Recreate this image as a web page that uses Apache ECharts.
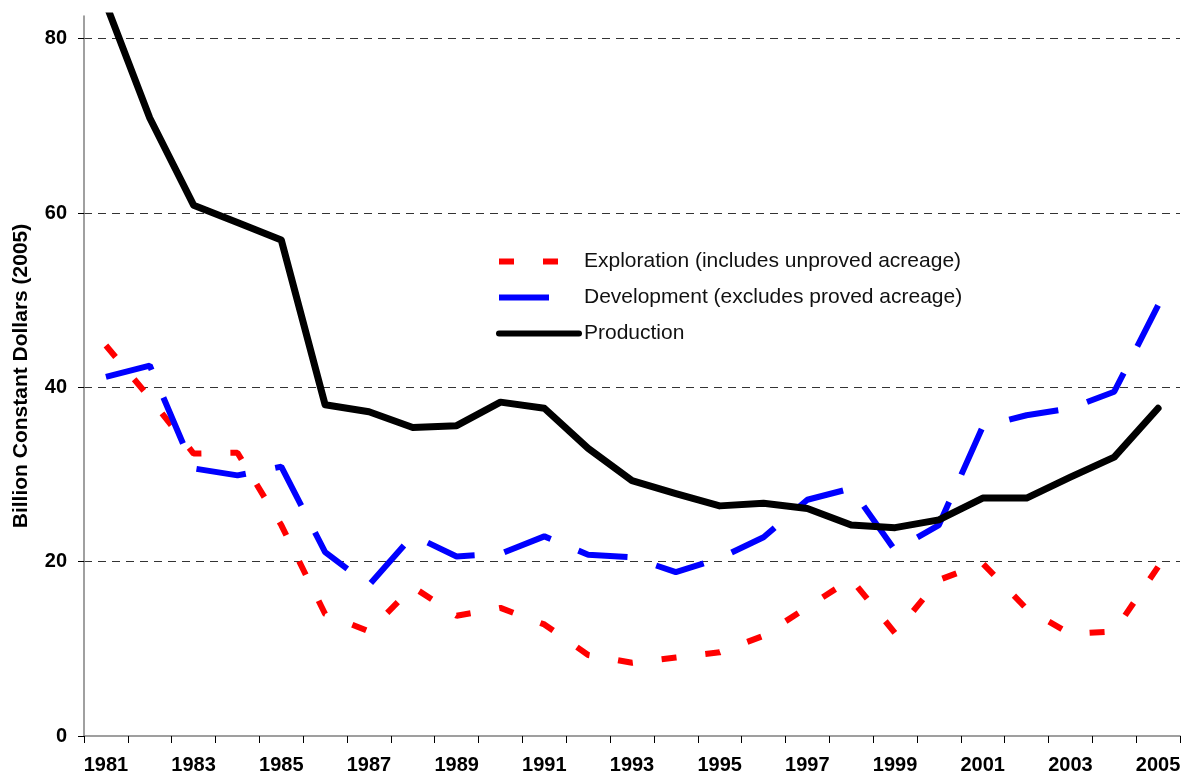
<!DOCTYPE html>
<html>
<head>
<meta charset="utf-8">
<script src="https://cdn.jsdelivr.net/npm/echarts@6/dist/echarts.min.js"></script>
<style>
  html, body { margin: 0; padding: 0; background: #fff; }
  #chart { width: 1184px; height: 778px; }
</style>
</head>
<body>
<div id="chart"></div>
<script>
  // years on the x axis
  var years = ['1981', '1982', '1983', '1984', '1985', '1986', '1987', '1988', '1989', '1990',
    '1991', '1992', '1993', '1994', '1995', '1996', '1997', '1998', '1999', '2000',
    '2001', '2002', '2003', '2004', '2005']

  // billion constant dollars (2005)
  var exploration = [44.8, 38.8, 32.4, 32.5, 24.2, 14.0, 12.0, 17.1, 13.8, 14.7,
    12.8, 9.3, 8.4, 9.0, 9.6, 11.5, 14.8, 18.0, 11.8, 17.9,
    19.8, 14.6, 11.7, 12.0, 19.4]
  var development = [41.2, 42.5, 30.7, 29.9, 30.9, 21.1, 17.3, 23.0, 20.6, 20.9,
    22.9, 20.8, 20.5, 18.8, 20.4, 22.8, 27.1, 28.4, 21.3, 24.2,
    35.5, 36.8, 37.6, 39.5, 49.4]
  var production = [84.0, 70.9, 60.9, 58.9, 56.9, 38.0, 37.2, 35.4, 35.6, 38.3,
    37.6, 33.0, 29.3, 27.8, 26.4, 26.7, 26.1, 24.2, 23.9, 24.8,
    27.3, 27.3, 29.7, 32.0, 37.6]

  var font = 'Liberation Sans, Arial, sans-serif'

  var chart = echarts.init(document.getElementById('chart'), null, { renderer: 'canvas' })

  var option = {
    backgroundColor: '#fff',
    animation: false,
    grid: {
      left: 84,
      right: 4,
      top: 16,
      bottom: 42,
      containLabel: false,
      outerBoundsMode: 'none'
    },
    legend: {
      orient: 'vertical',
      left: 496,
      top: 251,
      padding: 0,
      itemWidth: 80,
      itemHeight: 14,
      itemGap: 15,
      itemStyle: { opacity: 0 },
      lineStyle: { width: 6 },
      textStyle: { fontFamily: font, fontSize: 21, color: '#111' },
      data: ['Exploration (includes unproved acreage)', 'Development (excludes proved acreage)', 'Production']
    },
    xAxis: {
      type: 'category',
      data: years,
      boundaryGap: true,
      axisLine: { lineStyle: { color: '#808080', width: 1.5 } },
      axisTick: { show: true, interval: 0, length: 7, lineStyle: { color: '#000' } },
      axisLabel: {
        interval: 1,
        margin: 19,
        fontFamily: font,
        fontSize: 20,
        fontWeight: 'bold',
        color: '#000'
      },
      splitLine: { show: false }
    },
    yAxis: {
      type: 'value',
      min: 0,
      max: 82.6,
      interval: 20,
      name: 'Billion Constant Dollars (2005)',
      nameLocation: 'middle',
      nameGap: 52,
      nameTextStyle: { fontFamily: font, fontSize: 21, fontWeight: 'bold', color: '#000' },
      axisLine: { show: true, lineStyle: { color: '#808080', width: 1.5 } },
      axisTick: { show: true, length: 6, lineStyle: { color: '#000' } },
      axisLabel: {
        margin: 17,
        showMaxLabel: false,
        fontFamily: font,
        fontSize: 20,
        fontWeight: 'bold',
        color: '#000'
      },
      splitLine: {
        show: true,
        showMinLine: false,
        showMaxLine: false,
        lineStyle: { color: '#333', width: 1, type: [8, 6] }
      }
    },
    series: [
      {
        name: 'Exploration (includes unproved acreage)',
        type: 'line',
        data: exploration,
        symbol: 'none',
        lineStyle: { color: '#ff0000', width: 6, type: [15, 29], cap: 'butt' },
        itemStyle: { color: '#ff0000' },
        z: 3
      },
      {
        name: 'Development (excludes proved acreage)',
        type: 'line',
        data: development,
        symbol: 'none',
        lineStyle: { color: '#0000ff', width: 6, type: [50, 30], cap: 'butt' },
        itemStyle: { color: '#0000ff' },
        z: 4
      },
      {
        name: 'Production',
        type: 'line',
        data: production,
        symbol: 'none',
        lineStyle: { color: '#000', width: 7, cap: 'round', join: 'round' },
        itemStyle: { color: '#000' },
        z: 5
      }
    ]
  }

  chart.setOption(option)
</script>
</body>
</html>
